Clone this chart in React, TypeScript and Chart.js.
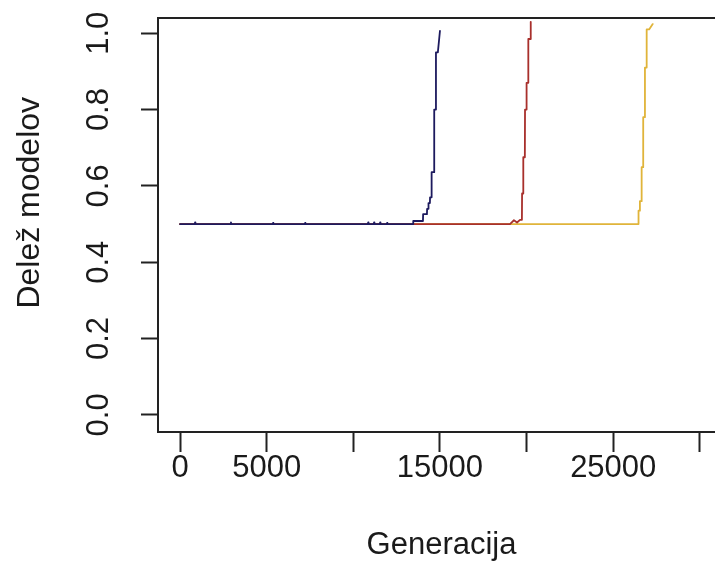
import React, { useEffect, useRef } from 'react';
import { Chart, registerables } from 'chart.js';

Chart.register(...registerables);

// Series (generation, share of models)
const blueX = [0, 850, 870, 890, 2920, 2940, 2960, 5350, 5370, 5390, 7200, 7220, 7240, 10840, 10860, 10880, 11180, 11200, 11220, 11530, 11550, 11570, 11930, 11950, 11970, 13450, 13460, 14020, 14030, 14250, 14260, 14330, 14340, 14420, 14430, 14510, 14520, 14660, 14670, 14760, 14770, 14880, 15000];
const blueY = [0.5, 0.5, 0.504, 0.5, 0.5, 0.504, 0.5, 0.5, 0.503, 0.5, 0.5, 0.503, 0.5, 0.5, 0.504, 0.5, 0.5, 0.504, 0.5, 0.5, 0.504, 0.5, 0.5, 0.503, 0.5, 0.5, 0.508, 0.508, 0.526, 0.526, 0.54, 0.54, 0.555, 0.555, 0.57, 0.57, 0.636, 0.636, 0.8, 0.8, 0.95, 0.95, 1.006];

const redX = [0, 19040, 19270, 19450, 19620, 19730, 19740, 19800, 19810, 19900, 19910, 19990, 20000, 20090, 20100, 20230, 20240];
const redY = [0.5, 0.5, 0.51, 0.504, 0.511, 0.511, 0.58, 0.58, 0.675, 0.675, 0.8, 0.8, 0.87, 0.87, 0.985, 0.985, 1.03];

const yellowX = [0, 26450, 26460, 26530, 26540, 26630, 26640, 26720, 26730, 26820, 26830, 26920, 26930, 27070, 27280];
const yellowY = [0.5, 0.5, 0.535, 0.535, 0.56, 0.56, 0.649, 0.649, 0.78, 0.78, 0.91, 0.91, 1.01, 1.01, 1.024];

const xTickValues = [0, 5000, 10000, 15000, 20000, 25000, 30000];
const xTickLabels = ['0', '5000', '', '15000', '', '25000', ''];
const yTickValues = [0, 0.2, 0.4, 0.6, 0.8, 1.0];
const yTickLabels = ['0.0', '0.2', '0.4', '0.6', '0.8', '1.0'];

const FONT = "'Liberation Sans', Arial, sans-serif";
const TEXT = '#1a1a1a';

const toPts = (xs: number[], ys: number[]) => xs.map((x, i) => ({ x, y: ys[i] }));

const boxPlugin = {
  id: 'rbox',
  afterDraw(chart: any) {
    const { ctx, chartArea: a } = chart;
    ctx.save();
    ctx.strokeStyle = '#222';
    ctx.lineWidth = 2;
    ctx.strokeRect(a.left, a.top, a.right - a.left, a.bottom - a.top);
    ctx.restore();
  },
};

const lineStyle = { borderWidth: 1.8, pointRadius: 0, tension: 0, fill: false, borderJoinStyle: 'round', borderCapStyle: 'round' };

export default function App() {
  const ref = useRef<HTMLCanvasElement | null>(null);
  useEffect(() => {
    if (!ref.current) return;
    const chart = new Chart(ref.current, {
      type: 'line',
      data: {
        datasets: [
          { data: toPts(blueX, blueY), borderColor: '#1d1a5e', ...lineStyle },
          { data: toPts(redX, redY), borderColor: '#a8302c', ...lineStyle },
          { data: toPts(yellowX, yellowY), borderColor: '#e0b43a', ...lineStyle },
        ],
      },
      options: {
        animation: false,
        responsive: false,
        devicePixelRatio: 1,
        layout: { padding: { top: 18, right: 35, left: 0, bottom: 0 } },
        plugins: { legend: { display: false }, tooltip: { enabled: false } },
        scales: {
          x: {
            type: 'linear',
            min: -1270,
            max: 31450,
            afterBuildTicks: (s: any) => { s.ticks = xTickValues.map((v) => ({ value: v })); },
            afterFit: (s: any) => { s.height = 150; s.paddingLeft = 0; s.paddingRight = 0; },
            ticks: {
              autoSkip: false,
              maxRotation: 0,
              minRotation: 0,
              padding: -2,
              color: TEXT,
              font: { family: FONT, size: 31 },
              callback: (v: any) => xTickLabels[xTickValues.indexOf(Number(v))] ?? '',
            },
            grid: { display: true, drawOnChartArea: false, drawTicks: true, tickLength: 20, tickWidth: 2, tickColor: '#222' },
            border: { display: false },
            title: { display: true, text: 'Generacija', color: TEXT, font: { family: FONT, size: 31 }, padding: { top: 0, bottom: 18 } },
          },
          y: {
            type: 'linear',
            min: -0.045,
            max: 1.04,
            afterBuildTicks: (s: any) => { s.ticks = yTickValues.map((v) => ({ value: v })); },
            afterFit: (s: any) => { s.width = 158; s.paddingTop = 0; s.paddingBottom = 0; },
            ticks: {
              minRotation: 90,
              maxRotation: 90,
              crossAlign: 'center',
              padding: 20,
              color: TEXT,
              font: { family: FONT, size: 31 },
              callback: (v: any) => yTickLabels[yTickValues.findIndex((t) => Math.abs(t - Number(v)) < 1e-9)] ?? '',
            },
            grid: { display: true, drawOnChartArea: false, drawTicks: true, tickLength: 17, tickWidth: 2, tickColor: '#222' },
            border: { display: false },
            title: { display: true, text: '     Delež modelov', color: TEXT, font: { family: FONT, size: 32 }, padding: { top: 11, bottom: 0 } },
          },
        },
      },
      plugins: [boxPlugin],
    } as any);
    return () => chart.destroy();
  }, []);

  return (
    <div style={{ position: 'fixed', left: 0, top: 0, width: 715, height: 582, overflow: 'hidden', background: '#fff' }}>
      <canvas ref={ref} width={760} height={582} style={{ width: 760, height: 582, display: 'block' }} />
    </div>
  );
}
